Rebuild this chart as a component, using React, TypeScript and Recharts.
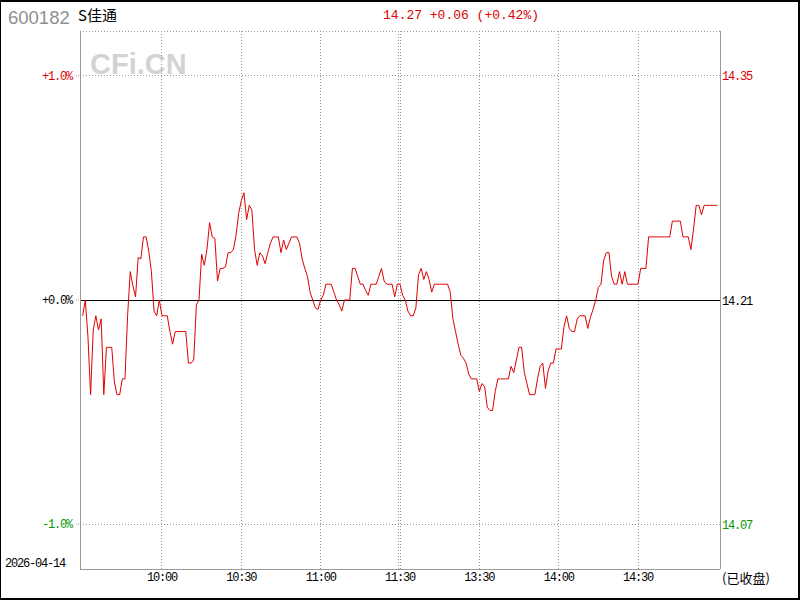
import React from 'react'
import {
  LineChart,
  Line,
  XAxis,
  YAxis,
  CartesianGrid,
  ReferenceLine,
} from 'recharts'

// ─── Data ─────────────────────────────────────────────────────────────────────

const stockCode = '600182'
const stockName = 'S佳通'
const tradeDate = '2026-04-14'
const prevClose = 14.21
const headline = '14.27 +0.06 (+0.42%)'

// one price per minute, 9:30 – 11:30
const morningPrices = [
  14.200, 14.210, 14.187, 14.150, 14.191, 14.200, 14.191, 14.198, 14.150, 14.180,
  14.180, 14.180, 14.158, 14.150, 14.150, 14.160, 14.160, 14.200, 14.228, 14.219,
  14.212, 14.237, 14.236, 14.250, 14.250, 14.241, 14.228, 14.203, 14.200, 14.210,
  14.200, 14.200, 14.200, 14.190, 14.182, 14.190, 14.190, 14.190, 14.190, 14.190,
  14.170, 14.170, 14.172, 14.207, 14.210, 14.239, 14.232, 14.242, 14.259, 14.250,
  14.249, 14.222, 14.230, 14.230, 14.231, 14.240, 14.240, 14.242, 14.251, 14.265,
  14.273, 14.278, 14.261, 14.270, 14.267, 14.242, 14.232, 14.240, 14.238, 14.233,
  14.240, 14.246, 14.250, 14.250, 14.250, 14.240, 14.248, 14.242, 14.246, 14.250,
  14.250, 14.250, 14.246, 14.236, 14.230, 14.225, 14.215, 14.210, 14.205, 14.204,
  14.210, 14.213, 14.220, 14.220, 14.220, 14.215, 14.210, 14.207, 14.203, 14.210,
  14.210, 14.210, 14.230, 14.230, 14.225, 14.220, 14.220, 14.216, 14.213, 14.220,
  14.220, 14.220, 14.225, 14.230, 14.222, 14.220, 14.220, 14.220, 14.212, 14.220,
  14.220,
]

// one price per minute, 13:01 – 15:00
const afternoonPrices = [
  14.213, 14.210, 14.203, 14.200, 14.200, 14.205, 14.226, 14.230, 14.223, 14.228,
  14.223, 14.215, 14.220, 14.220, 14.220, 14.220, 14.220, 14.220, 14.215, 14.198,
  14.190, 14.182, 14.175, 14.173, 14.170, 14.163, 14.160, 14.160, 14.160, 14.152,
  14.157, 14.155, 14.142, 14.140, 14.140, 14.152, 14.160, 14.160, 14.160, 14.160,
  14.160, 14.168, 14.164, 14.172, 14.180, 14.180, 14.164, 14.157, 14.150, 14.150,
  14.150, 14.160, 14.168, 14.170, 14.154, 14.165, 14.170, 14.170, 14.179, 14.179,
  14.179, 14.193, 14.200, 14.192, 14.190, 14.190, 14.198, 14.200, 14.200, 14.200,
  14.192, 14.199, 14.204, 14.210, 14.218, 14.220, 14.235, 14.240, 14.240, 14.225,
  14.220, 14.220, 14.228, 14.220, 14.228, 14.220, 14.220, 14.220, 14.220, 14.220,
  14.230, 14.230, 14.230, 14.250, 14.250, 14.250, 14.250, 14.250, 14.250, 14.250,
  14.250, 14.250, 14.260, 14.260, 14.260, 14.260, 14.250, 14.250, 14.250, 14.242,
  14.255, 14.270, 14.270, 14.264, 14.270, 14.270, 14.270, 14.270, 14.270, 14.270,
]

const xTicks = [30, 60, 90, 120, 150, 180, 210]
const xTickLabels = ['10:00', '10:30', '11:00', '11:30', '13:30', '14:00', '14:30']
const leftTickLabels = ['-1.0%', '+0.0%', '+1.0%']
const rightTickLabels = ['14.07', '14.21', '14.35']

// ─── Styles ───────────────────────────────────────────────────────────────────

const RED = '#dd0000'
const GREEN = '#009900'
const GRID = '#999999'
const tickColors = [GREEN, '#000000', RED]
const MONO = '"Liberation Mono", "DejaVu Sans Mono", monospace'

const prices = [...morningPrices, ...afternoonPrices]
const data = prices.map((price, i) => ({ i, price }))
const yTicks = [prevClose * 0.99, prevClose, prevClose * 1.01]
const yDomain = [prevClose * 0.988, prevClose * 1.012]

function LeftTick({ x, y, index }: any) {
  return (
    <text x={x} y={y + 4} textAnchor="end" fill={tickColors[index]} fontSize={12} fontFamily={MONO} letterSpacing={-1.2}>
      {leftTickLabels[index]}
    </text>
  )
}

function RightTick({ x, y, index }: any) {
  return (
    <text x={x} y={y + 4.5} textAnchor="start" fill={tickColors[index]} fontSize={12} fontFamily={MONO} letterSpacing={-1.2}>
      {rightTickLabels[index]}
    </text>
  )
}

function TimeTick({ x, y, payload }: any) {
  const k = xTicks.indexOf(payload.value)
  return (
    <text x={x} y={y + 9} textAnchor="middle" fill="#000" fontSize={12} fontFamily={MONO} letterSpacing={-1.2}>
      {xTickLabels[k]}
    </text>
  )
}

export default function App() {
  return (
    <div style={{ position: 'relative', width: 800, height: 600, background: '#fff' }}>
      <style>{`body{margin:0}`}</style>
      <svg width={800} height={600} style={{ position: 'absolute', left: 0, top: 0 }}>
        <text x={8} y={23.5} fill="#8f8f8f" fontSize={18.5} fontFamily='"Liberation Sans", Arial, sans-serif'>
          {stockCode}
        </text>
        <text x={78} y={21} fill="#000" fontSize={15} fontFamily='"Noto Sans CJK SC", sans-serif'>
          {stockName}
        </text>
        <text x={461} y={19} textAnchor="middle" fill={RED} fontSize={13} fontFamily={MONO}>
          {headline}
        </text>
        <text x={90} y={74} fill="#d3d3d3" fontSize={29} fontWeight="bold" fontFamily='"Liberation Sans", Arial, sans-serif'>
          CFi.CN
        </text>
        <text x={5} y={567} fill="#000" fontSize={12} fontFamily={MONO} letterSpacing={-1.2}>
          {tradeDate}
        </text>
        <text x={722} y={583} fill="#000" fontSize={13} fontFamily='"Noto Sans CJK SC", sans-serif'>
          (已收盘)
        </text>
      </svg>
      <div style={{ position: 'absolute', left: 0, top: 0 }}>
        <LineChart width={800} height={600} data={data} margin={{ top: 31, right: 0, bottom: 0, left: 0 }}>
          <CartesianGrid
            xAxisId="time"
            yAxisId="pct"
            stroke={GRID}
            strokeDasharray="1 2"
            shapeRendering="crispEdges"
          />
          <XAxis
            xAxisId="time"
            dataKey="i"
            type="number"
            domain={[-1, 241]}
            ticks={xTicks}
            interval={0}
            height={31}
            tickSize={3}
            tickMargin={0}
            tickLine={{ stroke: 'transparent' }}
            axisLine={{ stroke: GRID, shapeRendering: 'crispEdges' }}
            tick={<TimeTick />}
          />
          <XAxis
            xAxisId="top"
            orientation="top"
            dataKey="i"
            type="number"
            domain={[-1, 241]}
            height={0}
            tick={false}
            tickLine={false}
            axisLine={{ stroke: GRID, shapeRendering: 'crispEdges' }}
          />
          <YAxis
            yAxisId="pct"
            type="number"
            domain={yDomain}
            ticks={yTicks}
            interval={0}
            width={80}
            tickSize={4}
            tickMargin={4}
            tickLine={{ stroke: GRID, strokeDasharray: '1 1' }}
            axisLine={{ stroke: GRID, shapeRendering: 'crispEdges' }}
            tick={<LeftTick />}
          />
          <YAxis
            yAxisId="px"
            orientation="right"
            type="number"
            domain={yDomain}
            ticks={yTicks}
            interval={0}
            width={80}
            tickSize={1}
            tickMargin={1}
            tickLine={{ stroke: 'transparent' }}
            axisLine={{ stroke: GRID, shapeRendering: 'crispEdges' }}
            tick={<RightTick />}
          />
          <ReferenceLine xAxisId="time" yAxisId="pct" x={119.4} stroke={GRID} strokeDasharray="1 2" shapeRendering="crispEdges" />
          <ReferenceLine xAxisId="time" yAxisId="pct" y={prevClose} stroke="#000" strokeWidth={1} shapeRendering="crispEdges" />
          {/* invisible copy so the right price axis gets its ticks */}
          <Line
            xAxisId="time"
            yAxisId="px"
            dataKey="price"
            stroke="none"
            dot={false}
            activeDot={false}
            isAnimationActive={false}
          />
          <Line
            xAxisId="time"
            yAxisId="pct"
            dataKey="price"
            type="linear"
            stroke={RED}
            strokeWidth={1}
            dot={false}
            activeDot={false}
            isAnimationActive={false}
          />
        </LineChart>
      </div>
      <div
        style={{
          position: 'absolute',
          left: 0,
          top: 0,
          width: 800,
          height: 600,
          boxSizing: 'border-box',
          borderTop: '2px solid #000',
          borderRight: '2px solid #000',
          borderBottom: '2px solid #000',
          borderLeft: '1px solid #000',
          pointerEvents: 'none',
        }}
      />
    </div>
  )
}
